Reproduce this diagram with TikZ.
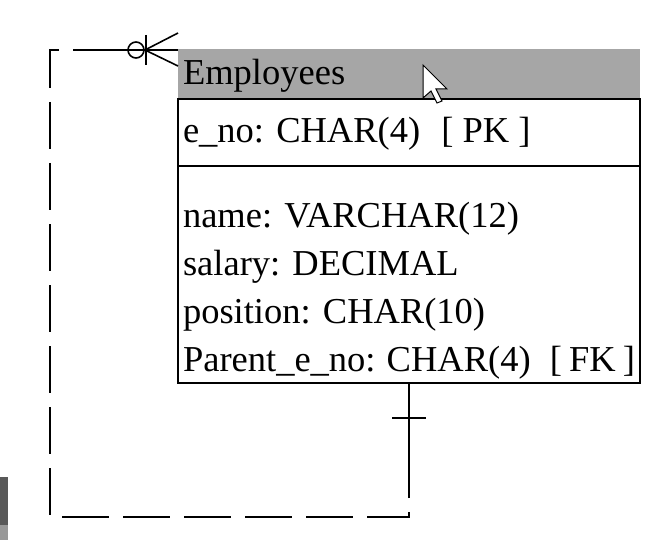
\documentclass[tikz,border=0pt]{standalone}
\usepackage{fontspec}
\setmainfont{Liberation Serif}
\usepackage{xcolor}
\usetikzlibrary{positioning, calc}

\definecolor{headgray}{RGB}{166,166,166}
\newcommand{\rowtext}[1]{\parbox[t]{452pt}{#1}}

\begin{document}
\begin{tikzpicture}[
    x=1pt, y=-1pt,
    entity/.style={rectangle, draw=black, line width=1.4pt, outer sep=0pt, minimum width=462pt, inner xsep=5pt, inner ysep=0pt, font=\fontsize{36.5}{48}\selectfont},
    header/.style={entity, draw=none, fill=headgray},
    link/.style={line width=1.6pt},
    dashlink/.style={link, dash pattern=on 47pt off 14pt, dash phase=47pt}
]
\useasboundingbox (0,0) rectangle (663,540);

% --- Entity: Employees ---
\node[header, anchor=north west, text height=36pt, text depth=14pt] (title) at (178,49) {\rowtext{Employees}};
\node[entity, anchor=north west, text height=44pt, text depth=23pt] (pk) at (title.south west) {\rowtext{e\_no: CHAR(4)\hspace{12pt} [ PK ]}};
\node[entity, anchor=north west, text height=61pt, text depth=156pt] (attrs) at (pk.south west) {\rowtext{name: VARCHAR(12)\\ salary: DECIMAL\\ position: CHAR(10)\\ Parent\_e\_no: CHAR(4)\hspace{12pt} [ FK ]}};

% --- Recursive relationship (Parent_e_no -> e_no) ---
\coordinate (lowleft) at (50,517);
\coordinate (upleft) at (50,50);
\coordinate (lowright) at (attrs.south |- lowleft);
\coordinate (foot) at ($(title.north west)+(0,1)$);
\coordinate (solidend) at (73,50);
\coordinate (fkend) at ($(attrs.south)+(0,112)$);

\draw[link] (foot) -- (solidend);
\draw[dashlink] (solidend) -- (upleft) -- (lowleft) -- (lowright) -- (attrs.south);
\draw[link] (attrs.south) -- (fkend);

% one side: single bar
\draw[link] ($(attrs.south)+(-17,35)$) -- ++(34,0);

% many side: circle, bar, crow's foot
\draw[link] ($(foot)+(-42,0)$) circle (8pt);
\draw[link] ($(foot)+(-32,-15)$) -- ++(0,30);
\draw[link] ($(foot)+(-33,0)$) -- ++(33,-17);
\draw[link] ($(foot)+(-33,0)$) -- ++(33,16);

% screen leftovers
\draw[line width=1pt, fill=white] (423,65) -- ++(0,33) -- ++(8,-7) -- ++(6,12) -- ++(5,-2) -- ++(-6,-12) -- ++(11,0) -- cycle;
\fill[black!65] (0,477) rectangle (8,525);
\fill[black!40] (0,525) rectangle (8,540);

\end{tikzpicture}
\end{document}
